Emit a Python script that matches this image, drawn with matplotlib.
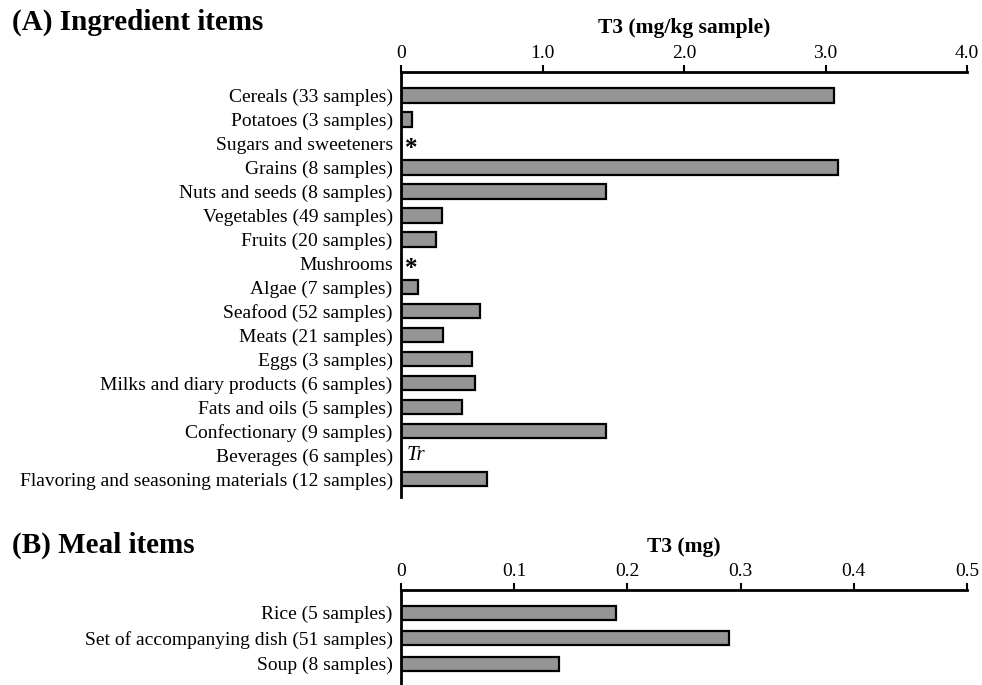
import matplotlib.pyplot as plt

plt.rcParams['font.family'] = ['Liberation Serif', 'DejaVu Serif']

# Panel A: ingredient items (mg/kg sample)
ingredients = [
    "Cereals (33 samples)", "Potatoes (3 samples)", "Sugars and sweeteners",
    "Grains (8 samples)", "Nuts and seeds (8 samples)", "Vegetables (49 samples)",
    "Fruits (20 samples)", "Mushrooms", "Algae (7 samples)", "Seafood (52 samples)",
    "Meats (21 samples)", "Eggs (3 samples)", "Milks and diary products (6 samples)",
    "Fats and oils (5 samples)", "Confectionary (9 samples)", "Beverages (6 samples)",
    "Flavoring and seasoning materials (12 samples)",
]
ingredient_t3 = [3.06, 0.075, 0, 3.09, 1.45, 0.29, 0.25, 0, 0.12, 0.56,
                 0.30, 0.50, 0.52, 0.43, 1.45, 0, 0.61]
ingredient_notes = {2: "*", 7: "*", 15: "Tr"}
ingredient_ticks = [0, 1.0, 2.0, 3.0, 4.0]
ingredient_ticklabels = ["0", "1.0", "2.0", "3.0", "4.0"]

# Panel B: meal items (mg)
meals = ["Rice (5 samples)", "Set of accompanying dish (51 samples)", "Soup (8 samples)"]
meal_t3 = [0.19, 0.29, 0.14]
meal_ticks = [0, 0.1, 0.2, 0.3, 0.4, 0.5]
meal_ticklabels = ["0", "0.1", "0.2", "0.3", "0.4", "0.5"]

W, H = 982, 685
fig = plt.figure(figsize=(W / 100, H / 100), dpi=100)

def px_axes(left, top, right, bottom):
    return fig.add_axes([left / W, 1 - bottom / H, (right - left) / W, (bottom - top) / H])

def style(ax, ticks, ticklabels, xmax, xlabel, labelpad):
    ax.set_xlim(0, xmax)
    for s in ["right", "bottom"]:
        ax.spines[s].set_visible(False)
    for s in ["top", "left"]:
        ax.spines[s].set_linewidth(2)
    ax.xaxis.tick_top()
    ax.xaxis.set_label_position("top")
    ax.set_xticks(ticks)
    ax.set_xticklabels(ticklabels)
    ax.tick_params(axis="x", direction="out", length=5, width=1.5, labelsize=14, pad=2)
    ax.tick_params(axis="y", length=0, labelsize=14, pad=6)
    ax.set_xlabel(xlabel, fontsize=15.5, fontweight="bold", labelpad=labelpad)

axA = px_axes(401, 72, 967, 497)
axA.barh(range(len(ingredients)), ingredient_t3, height=0.6,
         color="#959595", edgecolor="black", linewidth=1.6)
axA.set_yticks(range(len(ingredients)))
axA.set_yticklabels(ingredients)
axA.set_ylim(len(ingredients) - 1 + 0.75, -0.98)
style(axA, ingredient_ticks, ingredient_ticklabels, 4.0, "T3 (mg/kg sample)", 9)
for i, note in ingredient_notes.items():
    if note == "*":
        axA.text(0.03, i + 0.2, note, fontsize=18, fontweight="bold", va="center", ha="left")
    else:
        axA.text(0.04, i, note, fontsize=15, style="italic", va="center", ha="left")

axB = px_axes(401, 590, 967, 685)
axB.barh(range(len(meals)), meal_t3, height=0.55,
         color="#959595", edgecolor="black", linewidth=1.6)
axB.set_yticks(range(len(meals)))
axB.set_yticklabels(meals)
axB.set_ylim(2.84, -0.89)
style(axB, meal_ticks, meal_ticklabels, 0.5, "T3 (mg)", 8)

fig.text(12 / W, 1 - 22 / H, "(A) Ingredient items", fontsize=21, fontweight="bold", va="center", ha="left")
fig.text(12 / W, 1 - 545 / H, "(B) Meal items", fontsize=21, fontweight="bold", va="center", ha="left")

fig.savefig("out.png", dpi=100)
